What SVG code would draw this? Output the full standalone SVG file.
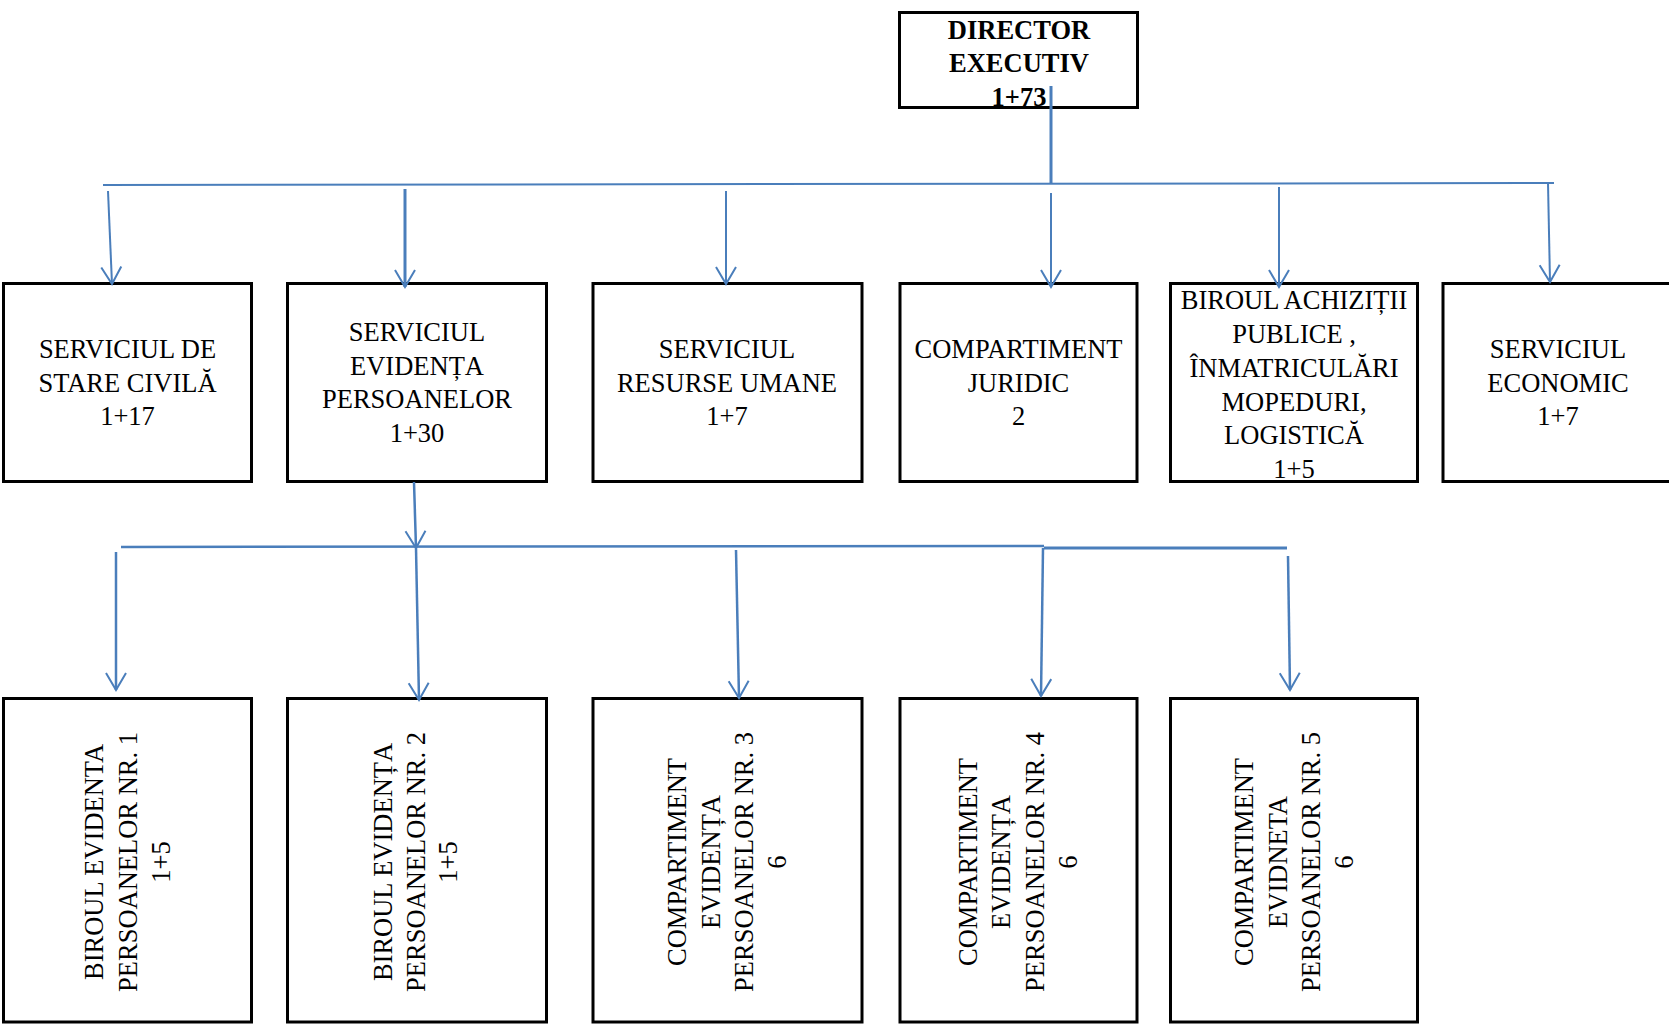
<svg xmlns="http://www.w3.org/2000/svg" width="1669" height="1024" viewBox="0 0 1669 1024">
<style>
.box{fill:#fff;stroke:#000;stroke-width:3}
.t{font-family:"Liberation Serif","Times New Roman",serif;font-size:26.5px;fill:#000;text-anchor:middle}
.b{font-weight:bold}
.c{fill:none;stroke:#4a7ebb;stroke-width:2}
.ca{fill:none;stroke:#4a7ebb;stroke-width:2;marker-end:url(#ah)}
</style>
<defs>
<marker id="ah" markerUnits="userSpaceOnUse" orient="auto" refX="0" refY="0" markerWidth="30" markerHeight="30" overflow="visible">
<path d="M-17,-10 L0,0 L-17,10" fill="none" stroke="#4a7ebb" stroke-width="2"/>
</marker>
</defs>
<rect width="1669" height="1024" fill="#fff"/>

<g id="director">
<rect class="box" x="899.5" y="12.5" width="238" height="95"/>
<text class="t b" x="1019" y="39">DIRECTOR</text>
<text class="t b" x="1019" y="72">EXECUTIV</text>
<text class="t b" x="1019" y="106">1+73</text>
</g>

<g id="stare-civila">
<rect class="box" x="3.5" y="283.5" width="248" height="198"/>
<text class="t" x="127.5" y="358">SERVICIUL DE</text>
<text class="t" x="127.5" y="392">STARE CIVILĂ</text>
<text class="t" x="127.5" y="425">1+17</text>
</g>

<g id="evidenta-persoanelor">
<rect class="box" x="287.5" y="283.5" width="259" height="198"/>
<text class="t" x="417" y="341">SERVICIUL</text>
<text class="t" x="417" y="375">EVIDENȚA</text>
<text class="t" x="417" y="408">PERSOANELOR</text>
<text class="t" x="417" y="442">1+30</text>
</g>

<g id="resurse-umane">
<rect class="box" x="593" y="283.5" width="269" height="198"/>
<text class="t" x="727" y="358">SERVICIUL</text>
<text class="t" x="727" y="392">RESURSE UMANE</text>
<text class="t" x="727" y="425">1+7</text>
</g>

<g id="juridic">
<rect class="box" x="900" y="283.5" width="237" height="198"/>
<text class="t" x="1018.5" y="358">COMPARTIMENT</text>
<text class="t" x="1018.5" y="392">JURIDIC</text>
<text class="t" x="1018.5" y="425">2</text>
</g>

<g id="achizitii">
<rect class="box" x="1170.5" y="283.5" width="247" height="198"/>
<text class="t" x="1294" y="309">BIROUL ACHIZIȚII</text>
<text class="t" x="1294" y="343">PUBLICE ,</text>
<text class="t" x="1294" y="377">ÎNMATRICULĂRI</text>
<text class="t" x="1294" y="411">MOPEDURI,</text>
<text class="t" x="1294" y="444">LOGISTICĂ</text>
<text class="t" x="1294" y="478">1+5</text>
</g>

<g id="economic">
<rect class="box" x="1443" y="283.5" width="240" height="198"/>
<text class="t" x="1558" y="358">SERVICIUL</text>
<text class="t" x="1558" y="392">ECONOMIC</text>
<text class="t" x="1558" y="425">1+7</text>
</g>

<g id="birou-1">
<rect class="box" x="3.5" y="698.5" width="248" height="323.5"/>
<text class="t" transform="translate(103,862) rotate(-90)">BIROUL EVIDENTA</text>
<text class="t" transform="translate(137,862) rotate(-90)">PERSOANELOR NR. 1</text>
<text class="t" transform="translate(170,862) rotate(-90)">1+5</text>
</g>

<g id="birou-2">
<rect class="box" x="287.5" y="698.5" width="259" height="323.5"/>
<text class="t" transform="translate(392,862) rotate(-90)">BIROUL EVIDENȚA</text>
<text class="t" transform="translate(425,862) rotate(-90)">PERSOANELOR NR. 2</text>
<text class="t" transform="translate(457,862) rotate(-90)">1+5</text>
</g>

<g id="compartiment-3">
<rect class="box" x="593" y="698.5" width="269" height="323.5"/>
<text class="t" transform="translate(686,862) rotate(-90)">COMPARTIMENT</text>
<text class="t" transform="translate(720,862) rotate(-90)">EVIDENȚA</text>
<text class="t" transform="translate(753,862) rotate(-90)">PERSOANELOR NR. 3</text>
<text class="t" transform="translate(786,862) rotate(-90)">6</text>
</g>

<g id="compartiment-4">
<rect class="box" x="900" y="698.5" width="237" height="323.5"/>
<text class="t" transform="translate(977,862) rotate(-90)">COMPARTIMENT</text>
<text class="t" transform="translate(1010,862) rotate(-90)">EVIDENȚA</text>
<text class="t" transform="translate(1044,862) rotate(-90)">PERSOANELOR NR. 4</text>
<text class="t" transform="translate(1077,862) rotate(-90)">6</text>
</g>

<g id="compartiment-5">
<rect class="box" x="1170.5" y="698.5" width="247" height="323.5"/>
<text class="t" transform="translate(1253,862) rotate(-90)">COMPARTIMENT</text>
<text class="t" transform="translate(1287,862) rotate(-90)">EVIDNETA</text>
<text class="t" transform="translate(1320,862) rotate(-90)">PERSOANELOR NR. 5</text>
<text class="t" transform="translate(1353,862) rotate(-90)">6</text>
</g>

<g id="connectors">
<path class="c" d="M1051,86 L1051,184" style="stroke-width:3"/>
<path class="c" d="M103,185 L1554,183"/>
<path class="ca" d="M108,191 L112,284"/>
<path class="ca" d="M405,189 L405,287" style="stroke-width:3"/>
<path class="ca" d="M726,191 L726,284"/>
<path class="ca" d="M1051,193 L1051,287"/>
<path class="ca" d="M1279,187 L1279,287"/>
<path class="ca" d="M1548,183 L1550,282"/>
<path class="ca" d="M414,482 L416,548" style="stroke-width:2.5"/>
<path class="c" d="M121,547 L1044,546" style="stroke-width:2.5"/>
<path class="c" d="M1044,548 L1287,548" style="stroke-width:3"/>
<path class="ca" d="M116,552 L116,690" style="stroke-width:2.5"/>
<path class="ca" d="M416,548 L419,700" style="stroke-width:2.5"/>
<path class="ca" d="M736,550 L739,698" style="stroke-width:2.5"/>
<path class="ca" d="M1043,548 L1041,696" style="stroke-width:2.5"/>
<path class="ca" d="M1288,556 L1290,690" style="stroke-width:2.5"/>
</g>
</svg>
